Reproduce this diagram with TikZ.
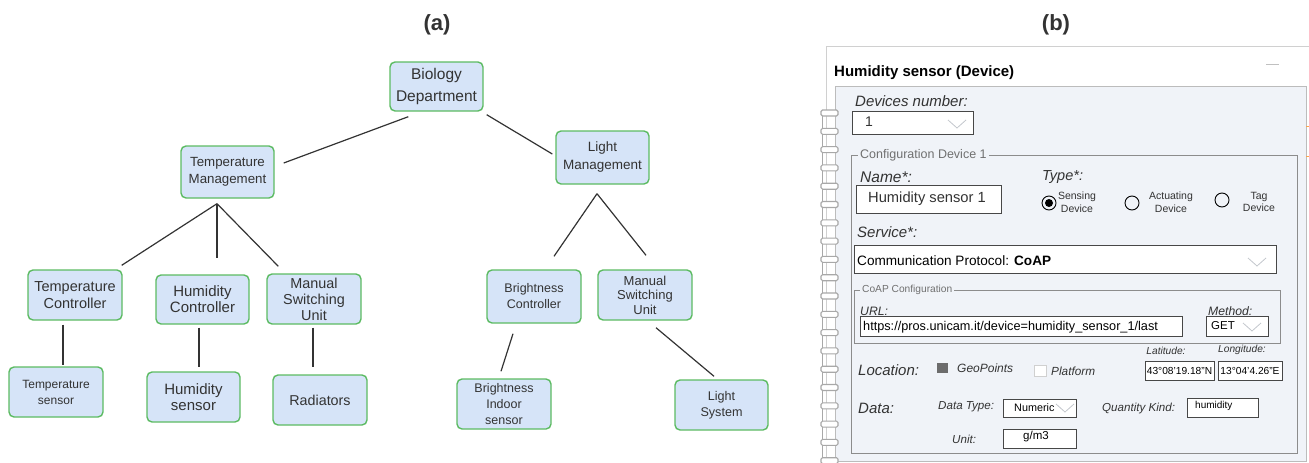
\documentclass[tikz,border=0pt]{standalone}
\usepackage{fontspec}
\setmainfont{Liberation Sans}
\usetikzlibrary{calc}

\definecolor{boxfill}{HTML}{D6E4F8}
\definecolor{boxline}{HTML}{5CBB62}
\definecolor{ink}{HTML}{333333}
\definecolor{panelfill}{HTML}{F0F3F8}
\definecolor{framec}{HTML}{D0D0D0}
\definecolor{setc}{HTML}{8C8C8C}
\definecolor{chevc}{HTML}{C3C7CD}
\definecolor{ringc}{HTML}{A8A8A8}

\newcommand{\fsz}[2]{\fontsize{#1}{#2}\selectfont}
% small drop-down arrow of a combo box
\newcommand{\chevron}[2]{\draw[chevc, line width=0.8pt] (#1-9,#2-4) -- (#1,#2+4) -- (#1+9,#2-4);}

\begin{document}
\begin{tikzpicture}[x=1pt, y=-1pt,
  unit/.style={draw=boxline, fill=boxfill, line width=1.4pt, rounded corners=5pt,
               inner sep=0pt, align=center, text=ink},
  link/.style={draw=ink, line width=1.2pt},
  title/.style={font=\bfseries\fsz{22}{26}, text=ink},
  lbl/.style={anchor=west, inner sep=0pt, text=ink},
  field/.style={draw=ink!90, fill=white, line width=0.9pt}
]
\useasboundingbox (0,0) rectangle (1309,463);

% ---------------- (a) organisation tree ----------------
\node[title] (ta) at (437,25) {(a)};

\node[unit, minimum width=93pt, minimum height=49pt, font=\fsz{15.5}{22}] (bio) at (436.5,86.5) {Biology\\Department};
\node[unit, minimum width=93pt, minimum height=52pt, font=\fsz{13.3}{17}] (tm) at (227.5,172) {Temperature\\Management};
\node[unit, minimum width=93pt, minimum height=53pt, font=\fsz{13.5}{18}] (lm) at (602.5,157.5) {Light\\Management};

\node[unit, minimum width=94pt, minimum height=50pt, font=\fsz{14.5}{17}] (tc) at (75,295) {Temperature\\Controller};
\node[unit, minimum width=93pt, minimum height=49pt, font=\fsz{15}{16}] (hc) at (202.5,299.5) {Humidity\\Controller};
\node[unit, minimum width=94pt, minimum height=50pt, font=\fsz{14.4}{16}] (msa) at (314,299) {Manual\\Switching\\Unit};
\node[unit, minimum width=94pt, minimum height=53pt, font=\fsz{12.5}{16}] (bc) at (534,296.5) {Brightness\\Controller};
\node[unit, minimum width=94pt, minimum height=50pt, font=\fsz{13}{14.5}] (msb) at (645,295) {Manual\\Switching\\Unit};

\node[unit, minimum width=94pt, minimum height=50pt, font=\fsz{12}{16}] (ts) at (56,392) {Temperature\\sensor};
\node[unit, minimum width=93pt, minimum height=50pt, font=\fsz{15}{16}] (hs) at (193.5,397) {Humidity\\sensor};
\node[unit, minimum width=94pt, minimum height=50pt, font=\fsz{14.3}{16}] (rad) at (320,400) {Radiators};
\node[unit, minimum width=94pt, minimum height=50pt, font=\fsz{12.5}{16}] (bis) at (504,404) {Brightness\\Indoor\\sensor};
\node[unit, minimum width=93pt, minimum height=50pt, font=\fsz{12.6}{16.5}] (ls) at (721.5,405) {Light\\System};

% connectors (they stop short of the boxes)
\draw[link] ($(tm.east)+(9,-9)$) -- ($(bio.south west)+(19,5)$);
\draw[link] ($(bio.south east)+(3,3)$) -- ($(lm.west)+(-3,-3.5)$);

\coordinate (tmfork) at ($(tm.south)+(-10.5,5)$);
\draw[link] (tmfork) -- ($(tc.north east)+(-1,-4)$);
\draw[link] (tmfork) -- ($(hc.north)+(14.5,-16)$);
\draw[link] (tmfork) -- ($(msa.north west)+(12,-7)$);

\coordinate (lmfork) at ($(lm.south)+(-5.5,9)$);
\draw[link] (lmfork) -- ($(bc.north)+(20,-13)$);
\draw[link] (lmfork) -- ($(msb.north)+(1,-14)$);

\draw[link] ($(tc.south)+(-12,4)$) -- ($(ts.north)+(7,-1)$);
\draw[link] ($(hc.south)+(-3.5,3)$) -- ($(hs.north)+(5.5,-4)$);
\draw[link] ($(msa.south)+(-1,3)$) -- ($(rad.north)+(-7,-7)$);
\draw[link] ($(bc.south)+(-21,10)$) -- ($(bis.north)+(-3,-7)$);
\draw[link] ($(msb.south)+(11,7)$) -- ($(ls.north)+(-7.5,-3)$);

% ---------------- (b) device form ----------------
\node[title] (tb) at (1056,25) {(b)};

% window frame and header
\draw[framec, line width=1pt] (826,470) -- (826,46) -- (1312,46);
\node[anchor=base west, inner sep=0pt, font=\bfseries\fsz{15}{18}, text=black] (hdr) at (834,76) {Humidity sensor (Device)};
\draw[framec!80!gray, line width=1pt] (1266,64) -- (1279,64);

% body panel
\draw[draw=framec!75!gray, fill=panelfill, line width=1pt] (835,86) rectangle (1306,461);
\draw[orange!70, line width=1pt] (1306,126) -- (1309,126) (1306,156) -- (1309,156);

% binder rings along the left edge
\foreach \k in {0,...,19}{
  \pgfmathsetmacro\yy{113+18.3*\k}
  \draw[ringc, line width=0.9pt] (822,\yy+3) -- (822,\yy+15);
  \draw[ringc, fill=white, line width=1.1pt, rounded corners=1.5pt] (821,\yy-3) rectangle (838,\yy+3);
}

% device count
\node[lbl, font=\itshape\fsz{15}{18}] (dnl) at (855,101) {Devices number:};
\draw[field] (852,111) rectangle (973,134);
\node[lbl, font=\fsz{14}{16}] (dnv) at (865,122) {1};
\chevron{957}{124}

% configuration group
\draw[setc, line width=0.8pt] (851,155) rectangle (1297,453);
\node[anchor=west, fill=panelfill, inner sep=2pt, font=\fsz{12.5}{14}, text=setc!80!black] (cfg) at (858,155) {Configuration Device 1};

\node[lbl, font=\itshape\fsz{15.5}{18}] (nml) at (860,177) {Name*:};
\draw[field] (856,185) rectangle (1001,213);
\node[lbl, font=\fsz{14.7}{16}] (nmv) at (868,199) {Humidity sensor 1};

\node[lbl, font=\itshape\fsz{14.5}{18}] (tyl) at (1042,177) {Type*:};
\draw[black, line width=0.9pt] (1049,203) circle[radius=7];
\fill[black] (1049,203) circle[radius=4];
\node[align=center, inner sep=0pt, font=\fsz{10.5}{12.5}, text=ink] (r1) at (1077,202) {Sensing\\Device};
\draw[black, line width=0.9pt] (1132,203) circle[radius=7];
\node[align=center, inner sep=0pt, font=\fsz{10.5}{12.5}, text=ink] (r2) at (1171,202) {Actuating\\Device};
\draw[black, line width=0.9pt] (1222,200) circle[radius=7];
\node[align=center, inner sep=0pt, font=\fsz{10.5}{12.5}, text=ink] (r3) at (1259,202) {Tag\\Device};

\node[lbl, font=\itshape\fsz{15}{18}] (svl) at (857,232) {Service*:};
\draw[field] (854,245) rectangle (1276,273);
\node[lbl, font=\fsz{13.6}{16}, text=black] (svv) at (857,261) {Communication Protocol: \textbf{CoAP}};
\chevron{1257}{262}

% CoAP group
\draw[setc, line width=0.8pt] (854,290) rectangle (1280,343);
\node[anchor=west, fill=panelfill, inner sep=2pt, font=\fsz{10.2}{12}, text=setc!80!black] (coap) at (860,290) {CoAP Configuration};
\node[lbl, font=\itshape\fsz{12.2}{14}] (urll) at (860,311) {URL:};
\draw[field] (860,316) rectangle (1182,336);
\node[lbl, font=\fsz{12.7}{14}, text=black] (urlv) at (863,327) {https://pros.unicam.it/device=humidity\_sensor\_1/last};
\node[lbl, font=\itshape\fsz{12.2}{14}] (mtl) at (1208,311) {Method:};
\draw[field] (1206,316) rectangle (1268,336);
\node[lbl, font=\fsz{11.5}{13}, text=black] (mtv) at (1211,326) {GET};
\chevron{1252}{327}

% location
\node[lbl, font=\itshape\fsz{15}{18}] (locl) at (858,370) {Location:};
\fill[gray!85!black] (937,363) rectangle (948,373);
\node[lbl, font=\itshape\fsz{12}{14}] (geo) at (957,368) {GeoPoints};
\draw[framec, fill=white, line width=0.8pt] (1034,365) rectangle (1046,376);
\node[lbl, font=\itshape\fsz{11.8}{14}] (plt) at (1051,371) {Platform};
\node[font=\itshape\fsz{10.2}{12}, inner sep=0pt, text=ink] (latl) at (1166,351) {Latitude:};
\node[font=\itshape\fsz{10.2}{12}, inner sep=0pt, text=ink] (lonl) at (1242,350) {Longitude:};
\draw[field] (1145,361) rectangle (1214,380);
\node[font=\fsz{10.2}{12}, inner sep=0pt, text=black] (latv) at (1179.5,371) {43°08'19.18"N};
\draw[field] (1218,361) rectangle (1282,380);
\node[font=\fsz{10.2}{12}, inner sep=0pt, text=black] (lonv) at (1250,371) {13°04'4.26"E};

% data
\node[lbl, font=\itshape\fsz{15}{18}] (datl) at (858,408) {Data:};
\node[lbl, font=\itshape\fsz{11.6}{14}] (dtl) at (938,407) {Data Type:};
\draw[field] (1003,399) rectangle (1076,417);
\node[lbl, font=\fsz{10.8}{13}, text=black] (dtv) at (1014,408) {Numeric};
\chevron{1065}{408}
\node[lbl, font=\itshape\fsz{11.6}{14}] (qkl) at (1102,408) {Quantity Kind:};
\draw[field] (1187,398) rectangle (1258,417);
\node[lbl, font=\fsz{10}{12}, text=black] (qkv) at (1195,406) {humidity};
\node[lbl, font=\itshape\fsz{11.6}{14}] (unl) at (952,439) {Unit:};
\draw[field] (1003,429) rectangle (1076,448);
\node[font=\fsz{11.5}{13}, inner sep=0pt, text=black] (unv) at (1036,437) {g/m3};
\end{tikzpicture}
\end{document}
